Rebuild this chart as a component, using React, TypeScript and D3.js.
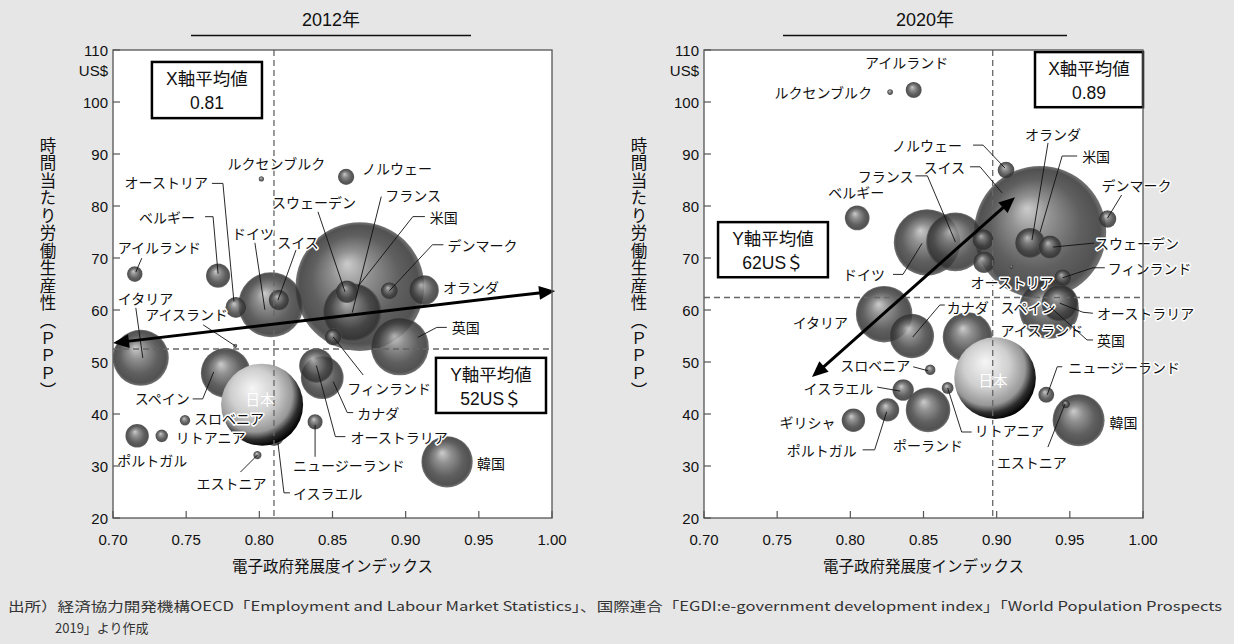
import React from 'react';
import * as d3 from 'd3';

const W = 1234;
const H = 644;
const PLOT_W = 439;
const PLOT_TOP = 50;
const PLOT_BOTTOM = 518;
const NUM_FONT = '"Liberation Sans", "Noto Sans CJK JP", sans-serif';
const JP_FONT = '"Noto Sans CJK JP", sans-serif';

const xTicks = [0.7, 0.75, 0.8, 0.85, 0.9, 0.95, 1.0];
const yTicks = [20, 30, 40, 50, 60, 70, 80, 90, 100, 110];

// 2012: 電子政府発展度, 時間当たり労働生産性 (US$), 人口 (百万人, 円の大きさ)
const names2012 = ['アイルランド', 'ベルギー', 'オーストリア', 'ルクセンブルク', 'ノルウェー', 'ドイツ', 'スイス', 'スウェーデン', 'フランス', '米国', 'デンマーク', 'オランダ', '英国', 'フィンランド', 'カナダ', 'オーストラリア', '韓国', 'ニュージーランド', 'イスラエル', 'エストニア', 'スペイン', 'スロベニア', 'リトアニア', 'ポルトガル', 'イタリア', 'アイスランド', '日本'];
const egdi2012 = [0.7149, 0.7718, 0.784, 0.8014, 0.8593, 0.8079, 0.8134, 0.8599, 0.8635, 0.8687, 0.8889, 0.9125, 0.896, 0.8505, 0.843, 0.839, 0.9283, 0.8381, 0.81, 0.7987, 0.777, 0.7492, 0.7333, 0.7165, 0.719, 0.7835, 0.8019];
const prod2012 = [66.9, 66.6, 60.5, 85.2, 85.6, 61.0, 61.9, 63.5, 59.5, 64.5, 63.7, 63.8, 53.0, 54.8, 47.0, 49.3, 30.8, 38.5, 35.8, 32.1, 47.9, 38.8, 35.8, 35.8, 50.8, 53.1, 41.8];
const pop2012 = [4.6, 11.1, 8.4, 0.53, 5.0, 80.4, 8.0, 9.5, 65.7, 314, 5.6, 16.8, 63.7, 5.4, 34.8, 22.7, 50.0, 4.4, 7.9, 1.3, 46.8, 2.06, 3.0, 10.5, 59.5, 0.32, 127.6];

// 2020
const names2020 = ['アイルランド', 'ルクセンブルク', 'ベルギー', 'ドイツ', 'フランス', 'スイス', 'オーストリア', 'ノルウェー', 'オランダ', '米国', 'スウェーデン', 'デンマーク', 'フィンランド', 'アイスランド', 'オーストラリア', '英国', 'スペイン', 'カナダ', 'イタリア', 'スロベニア', 'イスラエル', 'リトアニア', 'ポーランド', 'ポルトガル', 'ギリシャ', 'ニュージーランド', '韓国', 'エストニア', '日本'];
const egdi2020 = [0.8433, 0.8272, 0.8047, 0.8524, 0.8718, 0.8907, 0.8914, 0.9064, 0.9228, 0.9297, 0.9365, 0.9758, 0.9452, 0.9101, 0.9432, 0.9358, 0.8801, 0.842, 0.8231, 0.8546, 0.8361, 0.8665, 0.8531, 0.8255, 0.8021, 0.9339, 0.956, 0.9473, 0.8989];
const prod2020 = [102.3, 101.9, 77.7, 73.0, 73.1, 73.5, 69.2, 86.9, 72.9, 75.0, 72.1, 77.5, 66.2, 68.3, 61.3, 60.2, 54.8, 55.0, 59.2, 48.5, 44.6, 45.0, 40.8, 40.8, 38.8, 43.7, 38.8, 41.9, 46.9];
const pop2020 = [4.9, 0.63, 11.6, 83.8, 65.3, 8.7, 9.0, 5.4, 17.1, 331, 10.1, 5.8, 5.5, 0.34, 25.5, 67.9, 46.8, 37.7, 60.5, 2.1, 8.7, 2.7, 37.8, 10.2, 10.4, 4.8, 51.3, 1.3, 126.5];

// label placement: offset (px) from bubble centre, leader line points
const labels2012 = [
  { name: 'アイルランド', dx: -17, dy: -27, anchor: 'start', lead: [[7, -16], [1, -2]] },
  { name: 'ベルギー', dx: -23, dy: -59, anchor: 'end', lead: [[-13, -59], [-5, -59], [0, -2]] },
  { name: 'オーストリア', dx: -28, dy: -125, anchor: 'end', lead: [[-24, -124], [-13, -124], [-2, -6]] },
  { name: 'ルクセンブルク', dx: 15, dy: -16, anchor: 'middle' },
  { name: 'ノルウェー', dx: 16, dy: -9, anchor: 'start' },
  { name: 'ドイツ', dx: -18, dy: -72, anchor: 'middle', lead: [[-16, -62], [-6, 5]] },
  { name: 'スイス', dx: 19, dy: -58, anchor: 'middle', lead: [[17, -50], [-1, 0]] },
  { name: 'スウェーデン', dx: -33, dy: -90, anchor: 'middle', lead: [[-29, -80], [-2, 0]] },
  { name: 'フランス', dx: 33, dy: -118, anchor: 'start', lead: [[29, -116], [0, 0]] },
  { name: '米国', dx: 70, dy: -70, anchor: 'start', lead: [[65, -70], [53, -70], [-2, 0]] },
  { name: 'デンマーク', dx: 58, dy: -46, anchor: 'start', lead: [[54, -46], [43, -46], [0, 0]] },
  { name: 'オランダ', dx: 19, dy: -3, anchor: 'start' },
  { name: '英国', dx: 52, dy: -19, anchor: 'start', lead: [[47, -19], [37, -19], [18, -9]] },
  { name: 'フィンランド', dx: 14, dy: 51, anchor: 'start', lead: [[30, 38], [0, 0]] },
  { name: 'カナダ', dx: 35, dy: 35, anchor: 'start', lead: [[31, 35], [25, 35], [11, 4]] },
  { name: 'オーストラリア', dx: 34, dy: 71, anchor: 'start', lead: [[29, 71], [19, 71], [0, 0]] },
  { name: '韓国', dx: 30, dy: 1, anchor: 'start' },
  { name: 'ニュージーランド', dx: -22, dy: 43, anchor: 'start', lead: [[0, 35], [0, 3]] },
  { name: 'イスラエル', dx: 19, dy: 57, anchor: 'start', lead: [[16, 57], [10, 57], [4, 7]] },
  { name: 'エストニア', dx: -26, dy: 28, anchor: 'middle', lead: [[-17, 17], [0, 0]] },
  { name: 'スペイン', dx: -36, dy: 25, anchor: 'end', lead: [[-33, 26], [-23, 26], [-12, -1]] },
  { name: 'スロベニア', dx: 9, dy: -2, anchor: 'start' },
  { name: 'リトアニア', dx: 14, dy: 1.5, anchor: 'start' },
  { name: 'ポルトガル', dx: -20, dy: 24, anchor: 'start' },
  { name: 'イタリア', dx: -23, dy: -60, anchor: 'start', lead: [[-5, -50], [2, 0]] },
  { name: 'アイスランド', dx: -90, dy: -32, anchor: 'start', lead: [[-32, -21], [0, 0]] },
];

const labels2020 = [
  { name: 'アイルランド', dx: -7, dy: -28, anchor: 'middle' },
  { name: 'ルクセンブルク', dx: -18, dy: 0, anchor: 'end' },
  { name: 'ベルギー', dx: -1, dy: -26, anchor: 'middle' },
  { name: 'ノルウェー', dx: -44, dy: -25, anchor: 'end', lead: [[-33, -25], [-23, -25], [-1, -2]] },
  { name: 'スイス', dx: -18, dy: -73, anchor: 'end', lead: [[-13, -73], [-3, -73], [19, -47]] },
  { name: 'フランス', dx: -42, dy: -66, anchor: 'end', lead: [[-40, -66], [-28, -66], [0, 0]] },
  { name: 'ドイツ', dx: -42, dy: 32, anchor: 'end', lead: [[-34, 32], [-24, 32], [-5, 1]] },
  { name: 'イタリア', dx: -36, dy: 8, anchor: 'end' },
  { name: 'カナダ', dx: 35, dy: -29, anchor: 'start', lead: [[33, -31], [28, -31], [1, 1]] },
  { name: 'スペイン', dx: 33, dy: -30, anchor: 'start' },
  { name: 'アイスランド', dx: -11, dy: 63, anchor: 'start' },
  { name: '英国', dx: 48, dy: 31, anchor: 'start', lead: [[44, 31], [38, 31], [1, -2]] },
  { name: 'オーストラリア', dx: 37, dy: 10, anchor: 'start', lead: [[33, 10], [23, 9], [0, 0]] },
  { name: 'オーストリア', dx: 28, dy: 20, anchor: 'middle' },
  { name: 'フィンランド', dx: 45, dy: -10, anchor: 'start', lead: [[42, -10], [30, -10], [0, 0]] },
  { name: 'スウェーデン', dx: 45, dy: -4, anchor: 'start', lead: [[44, -4], [3, 0]] },
  { name: 'デンマーク', dx: 29, dy: -34, anchor: 'middle', lead: [[14, -24], [0, -1]] },
  { name: '米国', dx: 42, dy: -76, anchor: 'start', lead: [[37, -76], [22, -76], [0, 0]] },
  { name: 'オランダ', dx: 23, dy: -109, anchor: 'middle', lead: [[18, -100], [2, -3]] },
  { name: 'スロベニア', dx: -20, dy: -5, anchor: 'end', lead: [[-17, -3], [-2, 1]] },
  { name: 'イスラエル', dx: -30, dy: -2, anchor: 'end', lead: [[-26, -3], [-3, 1]] },
  { name: 'ギリシャ', dx: -18, dy: 2, anchor: 'end' },
  { name: 'ポルトガル', dx: -31, dy: 40, anchor: 'end', lead: [[-25, 40], [-13, 40], [-1, 2]] },
  { name: 'ポーランド', dx: 0, dy: 35, anchor: 'middle' },
  { name: 'リトアニア', dx: 27, dy: 42, anchor: 'start', lead: [[24, 44], [14, 44], [0, 0]] },
  { name: 'ニュージーランド', dx: 22, dy: -28, anchor: 'start', lead: [[16, -28], [11, -28], [1, 0]] },
  { name: '韓国', dx: 31, dy: 2, anchor: 'start' },
  { name: 'エストニア', dx: -69, dy: 58, anchor: 'start', lead: [[-18, 43], [-1, 0]] },
];

const charts = [
  {
    id: 'c2012', x0: 113, title: '2012年', underline: [191, 471],
    names: names2012, egdi: egdi2012, prod: prod2012, pop: pop2012, labels: labels2012,
    xMean: 0.81, yMean: 52.5, xMeanText: '0.81', yMeanText: '52US＄', japanDy: -6,
    xBox: [0.7266, 0.8018, 107.7, 96.9], yBox: [0.9207, 0.9959, 50.8, 40.2],
    arrow: [0.7, 53.65, 1.0021, 63.65],
  },
  {
    id: 'c2020', x0: 704, title: '2020年', underline: [783, 1067],
    names: names2020, egdi: egdi2020, prod: prod2020, pop: pop2020, labels: labels2020,
    xMean: 0.8973, yMean: 62.4, xMeanText: '0.89', yMeanText: '62US＄', japanDy: 1,
    xBox: [0.9262, 1.0, 109.6, 99.0], yBox: [0.7096, 0.7847, 76.9, 66.3],
    arrow: [0.7738, 47.1, 0.9125, 81.7],
  },
];

function Arrow({ x1, y1, x2, y2 }) {
  const len = Math.hypot(x2 - x1, y2 - y1);
  const ux = (x2 - x1) / len;
  const uy = (y2 - y1) / len;
  const hl = 16;
  const hw = 7;
  const head = (tx, ty, dx, dy) => {
    const bx = tx - dx * hl;
    const by = ty - dy * hl;
    return `${tx},${ty} ${bx - dy * hw},${by + dx * hw} ${bx + dy * hw},${by - dx * hw}`;
  };
  return (
    <g>
      <line x1={x1 + ux * (hl - 2)} y1={y1 + uy * (hl - 2)} x2={x2 - ux * (hl - 2)} y2={y2 - uy * (hl - 2)} stroke="#000" strokeWidth={3} />
      <polygon points={head(x2, y2, ux, uy)} fill="#000" />
      <polygon points={head(x1, y1, -ux, -uy)} fill="#000" />
    </g>
  );
}

function Chart({ c }) {
  const x = d3.scaleLinear().domain([0.7, 1.0]).range([c.x0, c.x0 + PLOT_W]);
  const y = d3.scaleLinear().domain([20, 110]).range([PLOT_BOTTOM, PLOT_TOP]);
  const r = d3.scaleSqrt().domain([0, 127.6]).range([0, 41]);
  const pts = c.names.map((n, i) => ({ name: n, cx: x(c.egdi[i]), cy: y(c.prod[i]), r: r(c.pop[i]) }));
  const byName = new Map(pts.map(p => [p.name, p]));
  const order = [...pts].sort((a, b) => (a.name === '日本' ? 1 : 0) - (b.name === '日本' ? 1 : 0) || b.r - a.r);
  const japan = byName.get('日本');
  const cxMid = c.x0 + PLOT_W / 2;
  const line = d3.line();

  const box = (b, l1, l2) => (
    <g>
      <rect x={x(b[0])} y={y(b[2])} width={x(b[1]) - x(b[0])} height={y(b[3]) - y(b[2])} fill="#fff" stroke="#000" strokeWidth={2.5} />
      <text x={(x(b[0]) + x(b[1])) / 2} y={y(b[2]) + 17} textAnchor="middle" dominantBaseline="central" fontSize={17.5} fontFamily={NUM_FONT} fill="#111">{l1}</text>
      <text x={(x(b[0]) + x(b[1])) / 2} y={y(b[2]) + 41} textAnchor="middle" dominantBaseline="central" fontSize={17.5} fontFamily={NUM_FONT} fill="#111">{l2}</text>
    </g>
  );

  return (
    <g>
      <text x={(c.underline[0] + c.underline[1]) / 2} y={20} textAnchor="middle" dominantBaseline="central" fontSize={18} fontFamily={NUM_FONT} fill="#111">{c.title}</text>
      <line x1={c.underline[0]} x2={c.underline[1]} y1={35.5} y2={35.5} stroke="#111" strokeWidth={1.5} />

      <clipPath id={`clip-${c.id}`}>
        <rect x={c.x0} y={PLOT_TOP} width={PLOT_W} height={PLOT_BOTTOM - PLOT_TOP} />
      </clipPath>
      <rect x={c.x0} y={PLOT_TOP} width={PLOT_W} height={PLOT_BOTTOM - PLOT_TOP} fill="#fff" />

      <g clipPath={`url(#clip-${c.id})`}>
        {order.map(p => (
          <circle key={p.name} cx={p.cx} cy={p.cy} r={Math.max(p.r, 1.8)}
            fill={p.name === '日本' ? 'url(#sphereJapan)' : 'url(#sphere)'}
            opacity={p.name === '日本' ? 1 : 0.84} />
        ))}
      </g>

      <line x1={x(c.xMean)} x2={x(c.xMean)} y1={PLOT_TOP} y2={PLOT_BOTTOM} stroke="#666" strokeWidth={1.3} strokeDasharray="6 4" />
      <line x1={c.x0} x2={c.x0 + PLOT_W} y1={y(c.yMean)} y2={y(c.yMean)} stroke="#666" strokeWidth={1.3} strokeDasharray="6 4" />

      {japan && (
        <text x={japan.cx - 2} y={japan.cy + c.japanDy} textAnchor="middle" dominantBaseline="central" fontSize={14.5} fontFamily={JP_FONT} fill="#fff">日本</text>
      )}

      {c.labels.map(l => {
        const p = byName.get(l.name);
        if (!p) return null;
        return (
          <g key={l.name}>
            {l.lead && (
              <path d={line(l.lead.map(([dx, dy]) => [p.cx + dx, p.cy + dy]))} fill="none" stroke="#111" strokeWidth={0.9} />
            )}
            <text x={p.cx + l.dx} y={p.cy + l.dy} textAnchor={l.anchor} dominantBaseline="central"
              fontSize={14} fontFamily={JP_FONT} fill="#111" stroke="#fff" strokeWidth={3}
              strokeLinejoin="round" paintOrder="stroke">{l.name}</text>
          </g>
        );
      })}

      {box(c.xBox, 'X軸平均値', c.xMeanText)}
      {box(c.yBox, 'Y軸平均値', c.yMeanText)}

      <Arrow x1={x(c.arrow[0])} y1={y(c.arrow[1])} x2={x(c.arrow[2])} y2={y(c.arrow[3])} />

      <rect x={c.x0} y={PLOT_TOP} width={PLOT_W} height={PLOT_BOTTOM - PLOT_TOP} fill="none" stroke="#555" strokeWidth={1.3} />

      {xTicks.map(t => (
        <g key={t}>
          <line x1={x(t)} x2={x(t)} y1={PLOT_BOTTOM} y2={PLOT_BOTTOM - 7} stroke="#555" strokeWidth={1.2} />
          <text x={x(t)} y={539} textAnchor="middle" dominantBaseline="central" fontSize={15} fontFamily={NUM_FONT} fill="#111">{d3.format('.2f')(t)}</text>
        </g>
      ))}
      {yTicks.map(t => (
        <g key={t}>
          <line x1={c.x0} x2={c.x0 + 7} y1={y(t)} y2={y(t)} stroke="#555" strokeWidth={1.2} />
          <text x={c.x0 - 5} y={y(t)} textAnchor="end" dominantBaseline="central" fontSize={15} fontFamily={NUM_FONT} fill="#111">{t}</text>
        </g>
      ))}
      <text x={c.x0 - 5} y={y(110) + 20} textAnchor="end" dominantBaseline="central" fontSize={15} fontFamily={NUM_FONT} fill="#111">US$</text>

      <text x={cxMid} y={565} textAnchor="middle" dominantBaseline="central" fontSize={15.5} fontFamily={JP_FONT} fill="#111">電子政府発展度インデックス</text>
      <text x={c.x0 - 65} y={137} fontSize={16.5} fontFamily={JP_FONT} fill="#111" letterSpacing={1}
        style={{ writingMode: 'vertical-rl' }}>時間当たり労働生産性（ＰＰＰ）</text>
    </g>
  );
}

export default function App() {
  return (
    <svg width={W} height={H} style={{ position: 'absolute', left: 0, top: 0, display: 'block' }}>
      <defs>
        <radialGradient id="sphere" cx="0.5" cy="0.5" r="0.5" fx="0.4" fy="0.32">
          <stop offset="0" stopColor="#c2c2c2" />
          <stop offset="0.3" stopColor="#7c7c7c" />
          <stop offset="0.68" stopColor="#414141" />
          <stop offset="0.92" stopColor="#303030" />
          <stop offset="1" stopColor="#5a5a5a" />
        </radialGradient>
        <radialGradient id="sphereJapan" cx="0.42" cy="0.4" r="0.62" fx="0.38" fy="0.3">
          <stop offset="0" stopColor="#f6f6f6" />
          <stop offset="0.45" stopColor="#cfcfcf" />
          <stop offset="0.74" stopColor="#979797" />
          <stop offset="0.87" stopColor="#2e2e2e" />
          <stop offset="1" stopColor="#000" />
        </radialGradient>
      </defs>
      <rect x={0} y={0} width={W} height={H} fill="#e6e6e6" />
      {charts.map(c => <Chart key={c.id} c={c} />)}
      <text x={8} y={605} dominantBaseline="central" fontSize={13} fontFamily={JP_FONT} fill="#333"
        textLength={1214} lengthAdjust="spacingAndGlyphs">
        出所）経済協力開発機構OECD「Employment and Labour Market Statistics」、国際連合「EGDI:e-government development index」「World Population Prospects
      </text>
      <text x={55} y={627} dominantBaseline="central" fontSize={13} fontFamily={JP_FONT} fill="#333">2019」より作成</text>
    </svg>
  );
}
